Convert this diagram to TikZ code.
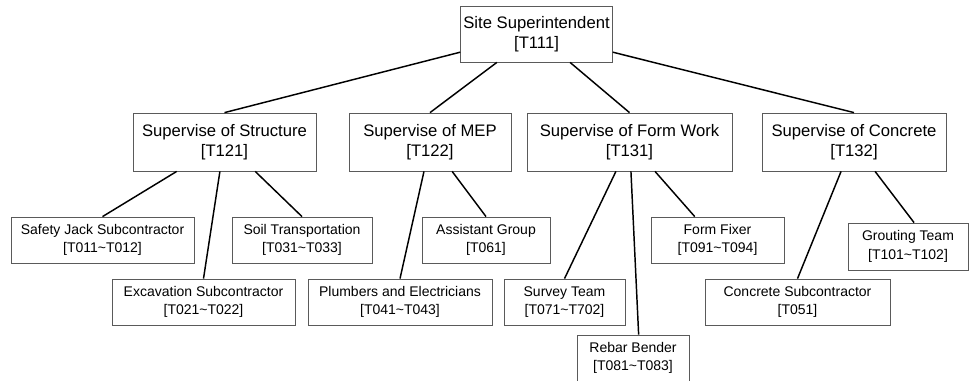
\documentclass[tikz,border=0pt]{standalone}
\usepackage{fontspec}
\setmainfont{Liberation Sans}
\usepackage{xcolor}
\definecolor{edge}{RGB}{90, 90, 90}
\usepackage{tikz}
\usetikzlibrary{calc, positioning}
\tikzstyle{box} = [rectangle, draw=edge, line width=0.6pt, fill=white, align=center, inner sep=2pt]
\tikzstyle{chief} = [box, font=\fontsize{12.5}{15}\selectfont, minimum height=42pt]
\tikzstyle{supervisor} = [box, font=\fontsize{12.5}{15}\selectfont, minimum height=43.5pt]
\tikzstyle{crew} = [box, font=\fontsize{10.5}{14}\selectfont, minimum height=34.5pt]
\tikzstyle{link} = [line width=1.1pt, black]

\begin{document}
\begin{tikzpicture}[x=0.75pt, y=-0.75pt]
    \useasboundingbox (0,0) rectangle (971,380);

    % top
    \node[chief, minimum width=113.25pt] (site) at (536.5,34) {Site Superintendent\\{}[T111]};

    % supervisors
    \node[supervisor, minimum width=137.25pt] (str) at (224.5,142) {Supervise of Structure\\{}[T121]};
    \node[supervisor, minimum width=121.5pt] (mep) at (430,142) {Supervise of MEP\\{}[T122]};
    \node[supervisor, minimum width=153.75pt] (form) at (629.5,142) {Supervise of Form Work\\{}[T131]};
    \node[supervisor, minimum width=138pt] (conc) at (854,142) {Supervise of Concrete\\{}[T132]};

    % teams
    \node[crew, minimum width=137.25pt] (jack) at (102.5,240) {Safety Jack Subcontractor\\{}[T011\textasciitilde T012]};
    \node[crew, minimum width=137.25pt] (excav) at (203.5,302) {Excavation Subcontractor\\{}[T021\textasciitilde T022]};
    \node[crew, minimum width=105pt] (soil) at (302,240) {Soil Transportation\\{}[T031\textasciitilde T033]};
    \node[crew, minimum width=138pt] (plumb) at (400,302) {Plumbers and Electricians\\{}[T041\textasciitilde T043]};
    \node[crew, minimum width=96pt] (assist) at (486,240) {Assistant Group\\{}[T061]};
    \node[crew, minimum width=90.75pt] (survey) at (564.5,302) {Survey Team\\{}[T071\textasciitilde T702]};
    \node[crew, minimum width=84pt] (rebar) at (633,358) {Rebar Bender\\{}[T081\textasciitilde T083]};
    \node[crew, minimum width=99.75pt] (fixer) at (717.5,240) {Form Fixer\\{}[T091\textasciitilde T094]};
    \node[crew, minimum width=138.75pt] (csub) at (797.5,302) {Concrete Subcontractor\\{}[T051]};
    \node[crew, minimum width=90pt, minimum height=35.25pt] (grout) at (908,246.5) {Grouting Team\\{}[T101\textasciitilde T102]};

    \draw[link] ($(site.north west)!0.82!(site.south west)$) -- (str.north);
    \draw[link] ($(site.south west)!0.24!(site.south east)$) -- (mep.north);
    \draw[link] ($(site.south west)!0.72!(site.south east)$) -- (form.north);
    \draw[link] ($(site.north east)!0.82!(site.south east)$) -- (conc.north);

    \draw[link] ($(str.south west)!0.24!(str.south east)$) -- (jack.north);
    \draw[link] ($(str.south west)!0.475!(str.south east)$) -- (excav.north);
    \draw[link] ($(str.south west)!0.667!(str.south east)$) -- (soil.north);

    \draw[link] ($(mep.south west)!0.463!(mep.south east)$) -- (plumb.north);
    \draw[link] ($(mep.south west)!0.636!(mep.south east)$) -- (assist.north);

    \draw[link] ($(form.south west)!0.434!(form.south east)$) -- (survey.north);
    \draw[link] ($(form.south west)!0.507!(form.south east)$) -- ($(rebar.north west)!0.55!(rebar.north east)$);
    \draw[link] ($(form.south west)!0.624!(form.south east)$) -- ($(fixer.north west)!0.33!(fixer.north east)$);

    \draw[link] ($(conc.south west)!0.43!(conc.south east)$) -- (csub.north);
    \draw[link] ($(conc.south west)!0.614!(conc.south east)$) -- ($(grout.north west)!0.55!(grout.north east)$);
\end{tikzpicture}
\end{document}
